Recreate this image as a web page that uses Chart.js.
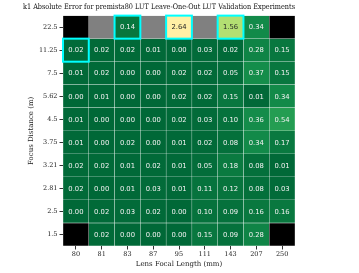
<!DOCTYPE html>
<html>
<head>
<meta charset="utf-8">
<script src="https://cdn.jsdelivr.net/npm/chart.js@4.4.1/dist/chart.umd.min.js"></script>
<style>
  html, body { margin: 0; padding: 0; background: #fff; }
  canvas { display: block; }
</style>
</head>
<body>
<canvas id="heat" width="359" height="273"></canvas>
<script>
const focalLengths = ['80', '81', '83', '87', '95', '111', '143', '207', '250'];
// bottom row first
const focusDistances = ['1.5', '2.5', '2.81', '3.21', '3.75', '4.5', '5.62', '7.5', '11.25', '22.5'];

// k1 absolute error per focus distance, one value per focal length (null = no result)
const err_1_5   = [null, 0.02, 0.00, 0.00, 0.00, 0.15, 0.09, 0.28, null];
const err_2_5   = [0.00, 0.02, 0.03, 0.02, 0.00, 0.10, 0.09, 0.16, 0.16];
const err_2_81  = [0.02, 0.00, 0.01, 0.03, 0.01, 0.11, 0.12, 0.08, 0.03];
const err_3_21  = [0.02, 0.02, 0.01, 0.02, 0.01, 0.05, 0.18, 0.08, 0.01];
const err_3_75  = [0.01, 0.00, 0.02, 0.00, 0.01, 0.02, 0.08, 0.34, 0.17];
const err_4_5   = [0.01, 0.00, 0.00, 0.00, 0.02, 0.03, 0.10, 0.36, 0.54];
const err_5_62  = [0.00, 0.01, 0.00, 0.00, 0.02, 0.02, 0.15, 0.01, 0.34];
const err_7_5   = [0.01, 0.02, 0.00, 0.00, 0.02, 0.02, 0.05, 0.37, 0.15];
const err_11_25 = [0.02, 0.02, 0.02, 0.01, 0.00, 0.03, 0.02, 0.28, 0.15];
const err_22_5  = [null, null, 0.14, null, 2.64, null, 1.56, 0.34, null];
const errorRows = [err_1_5, err_2_5, err_2_81, err_3_21, err_3_75, err_4_5, err_5_62, err_7_5, err_11_25, err_22_5];

// cells with no calibration at all (black) -- other nulls are grey
const noCalibration = [['80', '1.5'], ['250', '1.5'], ['80', '22.5'], ['250', '22.5']];
// left-out LUT entries, outlined
const leftOut = [['83', '22.5'], ['95', '22.5'], ['143', '22.5'], ['80', '11.25']];

// RdYlGn reversed, 0 .. vmax
const vmax = 4.8;
const stops = ['#006837', '#1a9850', '#66bd63', '#a6d96a', '#d9ef8b', '#ffffbf', '#fee08b', '#fdae61', '#f46d43', '#d73027', '#a50026'];

function hexRgb(h) {
  return [parseInt(h.slice(1, 3), 16), parseInt(h.slice(3, 5), 16), parseInt(h.slice(5, 7), 16)];
}
function colorFor(v) {
  const t = Math.max(0, Math.min(1, v / vmax)) * (stops.length - 1);
  const i = Math.min(Math.floor(t), stops.length - 2);
  const f = t - i;
  const a = hexRgb(stops[i]), b = hexRgb(stops[i + 1]);
  return a.map((c, k) => Math.round(c + (b[k] - c) * f));
}
const isIn = (list, c, r) => list.some(([f, d]) => f === focalLengths[c] && d === focusDistances[r]);

function cellColor(r, c) {
  const v = errorRows[r][c];
  if (v === null) return isIn(noCalibration, c, r) ? '#000000' : '#808080';
  const [R, G, B] = colorFor(v);
  return `rgb(${R},${G},${B})`;
}

const datasets = errorRows.map((row, r) => ({
  label: focusDistances[r],
  data: row.map(() => [r - 0.5, r + 0.5]),
  backgroundColor: row.map((_, c) => cellColor(r, c)),
  borderColor: 'rgba(255,255,255,0.07)',
  borderWidth: 0.5,
  borderSkipped: false,
  barPercentage: 1,
  categoryPercentage: 1,
  grouped: false
}));

const cellLabels = {
  id: 'cellLabels',
  afterDatasetsDraw(chart) {
    const ctx = chart.ctx;
    ctx.save();
    ctx.font = '6.8px "DejaVu Sans"';
    ctx.textAlign = 'center';
    ctx.textBaseline = 'middle';
    const boxes = [];
    errorRows.forEach((row, r) => {
      const meta = chart.getDatasetMeta(r);
      meta.data.forEach((bar, c) => {
        const { x, y, base, width } = bar.getProps(['x', 'y', 'base', 'width'], true);
        const cy = (y + base) / 2;
        const v = row[c];
        if (v !== null) {
          const [R, G, B] = colorFor(v);
          const lum = 0.299 * R + 0.587 * G + 0.114 * B;
          ctx.fillStyle = lum > 150 ? '#262626' : '#f2f2f2';
          ctx.fillText(v.toFixed(2), x, cy + 0.5);
        }
        if (isIn(leftOut, c, r)) {
          boxes.push([x - width / 2, Math.min(y, base), width, Math.abs(base - y)]);
        }
      });
    });
    ctx.strokeStyle = '#00ffff';
    ctx.lineWidth = 2;
    boxes.forEach(b => ctx.strokeRect(b[0], b[1], b[2], b[3]));
    ctx.restore();
  }
};

Chart.defaults.font.family = '"DejaVu Serif"';
Chart.defaults.color = '#222';

new Chart(document.getElementById('heat'), {
  type: 'bar',
  data: { labels: focalLengths, datasets },
  options: {
    responsive: false,
    animation: false,
    devicePixelRatio: 1,
    layout: { padding: { left: 23, right: 64, top: 0, bottom: 0 } },
    plugins: {
      legend: { display: false },
      tooltip: { enabled: false },
      title: {
        display: true,
        text: 'k1 Absolute Error for premista80 LUT Leave-One-Out LUT Validation Experiments',
        font: { size: 7.6, weight: 'normal', family: '"DejaVu Serif"' },
        color: '#111',
        padding: { top: 2.5, bottom: 4 }
      }
    },
    scales: {
      x: {
        type: 'category',
        grid: { offset: false, drawOnChartArea: false, tickLength: 3.5, color: '#333' },
        border: { display: false },
        ticks: { font: { size: 6.5 }, padding: 1, maxRotation: 0, color: '#222' },
        title: {
          display: true,
          text: 'Lens Focal Length (mm)',
          font: { size: 7 },
          color: '#222',
          padding: { top: 0, bottom: 5 }
        },
        afterFit: (s) => { s.height = 27; }
      },
      y: {
        type: 'linear',
        min: -0.5,
        max: 9.5,
        afterBuildTicks: (s) => { s.ticks = focusDistances.map((_, i) => ({ value: i })); },
        grid: { drawOnChartArea: false, tickLength: 3.5, color: '#333' },
        border: { display: false },
        ticks: {
          font: { size: 6.5 },
          padding: 2,
          color: '#222',
          callback: (v) => focusDistances[v]
        },
        title: {
          display: true,
          text: 'Focus Distance (m)',
          font: { size: 7 },
          color: '#222',
          padding: { top: 4, bottom: 0 }
        },
        afterFit: (s) => { s.width = 40; }
      }
    }
  },
  plugins: [cellLabels]
});
</script>
</body>
</html>
